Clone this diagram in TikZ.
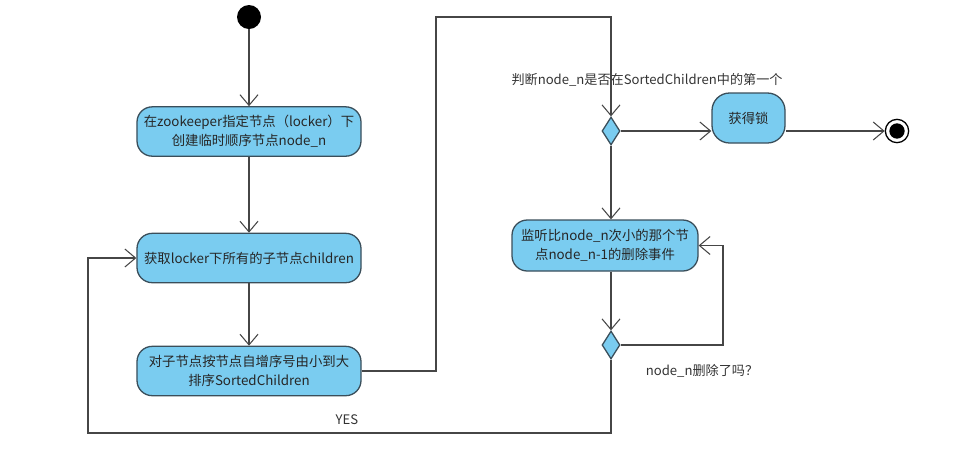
\documentclass[tikz,border=0pt]{standalone}
\usepackage{fontspec}
\setmainfont{Noto Sans CJK SC}
\usetikzlibrary{arrows.meta,shapes.geometric}
\definecolor{boxfill}{RGB}{122,204,240}
\definecolor{boxline}{RGB}{58,78,90}
\definecolor{wire}{RGB}{70,70,70}
\tikzset{
    action/.style={draw=boxline,fill=boxfill,line width=1.1pt,rounded corners=13pt,align=center,minimum width=6.72cm,minimum height=1.48cm,font=\fontsize{11.4}{16}\selectfont,text=black!85},
    choice/.style={draw=boxline,fill=boxfill,line width=1.1pt,diamond,inner sep=0pt,minimum width=0.54cm,minimum height=0.84cm},
    flow/.style={draw=wire,line width=0.9pt,-{Straight Barb[length=3.2mm,width=5.4mm]}},
    note/.style={font=\fontsize{11.2}{13}\selectfont,text=black!80}
}
\def\nn{node\_n}

\begin{document}
\begin{tikzpicture}[x=0.03cm,y=-0.03cm]
  \useasboundingbox (0,0) rectangle (959,463);

  % Start and end
  \node[circle,fill=black,minimum size=0.72cm,inner sep=0pt] (start) at (249,17) {};
  \node[circle,draw=black,line width=1.1pt,fill=white,minimum size=0.7cm,inner sep=0pt] (fin) at (897,131) {};
  \node[circle,fill=black,minimum size=0.46cm,inner sep=0pt] at (fin) {};

  % Left column
  \node[action] (create) at (249,131.5) {在zookeeper指定节点（locker）下\\创建临时顺序节点\nn};
  \node[action] (fetch) at (249,258) {获取locker下所有的子节点children};
  \node[action] (sort) at (249,371) {对子节点按节点自增序号由小到大\\排序SortedChildren};

  % Right column
  \node[choice] (first) at (611,131) {};
  \node[action,minimum width=2.19cm,minimum height=1.5cm,rounded corners=15pt] (lock) at (748.5,118) {获得锁};
  \node[action,minimum width=5.58cm,minimum height=1.53cm] (watch) at (605,245.5) {监听比\nn 次小的那个节\\点\nn-1的删除事件};
  \node[choice] (gone) at (611,345) {};

  % Labels
  \node[note] (askfirst) at (647,80) {判断\nn 是否在SortedChildren中的第一个};
  \node[note] (askgone) at (702,371) {\nn 删除了吗？};
  \node[note] (yes) at (347,420) {YES};

  % Corners
  \coordinate (up) at (436,17);
  \coordinate (loop) at (723,345);
  \coordinate (back) at (88,433);

  % Connectors
  \draw[flow] (start) -- (create);
  \draw[flow] (create) -- (fetch);
  \draw[flow] (fetch) -- (sort);
  \draw[flow] (sort.east) -| (up) -| (first.north);
  \draw[flow] (first.east) -- (first.east -| lock.west);
  \draw[flow] (first -| lock.east) -- (fin.west);
  \draw[flow] (first.south) -- (first |- watch.north);
  \draw[flow] (first |- watch.south) -- (gone.north);
  \draw[flow] (gone.east) -- (loop) |- (watch.east);
  \draw[flow] (gone.south) |- (back) |- (fetch.west);
\end{tikzpicture}
\end{document}
